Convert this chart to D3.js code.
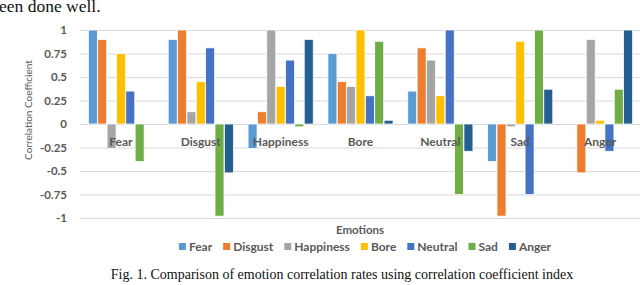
<!DOCTYPE html>
<html lang="en">
<head>
	<meta charset="UTF-8">
	<title>Emotion correlation</title>
	<script type="text/javascript" src="https://cdn.jsdelivr.net/npm/d3@7/dist/d3.min.js"></script>
	<style>
		body { margin: 0; background: #fff; }
		.lbl { font-family: Lato, "Open Sans", sans-serif; font-weight: bold; fill: #595959; }
		.serif { font-family: "Liberation Serif", "DejaVu Serif", serif; fill: #111; }
	</style>
</head>
<body>
<script type="text/javascript">
	// categories and one array per series
	var emotions = ['Fear', 'Disgust', 'Happiness', 'Bore', 'Neutral', 'Sad', 'Anger'];
	var fear = [1, 0.9, -0.26, 0.75, 0.35, -0.4, 0];
	var disgust = [0.9, 1, 0.13, 0.45, 0.81, -0.98, -0.52];
	var happiness = [-0.26, 0.13, 1, 0.4, 0.68, -0.03, 0.9];
	var bore = [0.75, 0.45, 0.4, 1, 0.3, 0.88, 0.04];
	var neutral = [0.35, 0.81, 0.68, 0.3, 1, -0.75, -0.29];
	var sad = [-0.4, -0.98, -0.03, 0.88, -0.75, 1, 0.37];
	var anger = [0, -0.52, 0.9, 0.04, -0.29, 0.37, 1];
	var yTicks = [1, 0.75, 0.5, 0.25, 0, -0.25, -0.5, -0.75, -1];
	var colors = ['#5B9BD5', '#ED7D31', '#A5A5A5', '#FFC000', '#4472C4', '#70AD47', '#255E91'];

	window.onload = function () {
		var series = [fear, disgust, happiness, bore, neutral, sad, anger];
		var left = 81, right = 640, top = 30, bottom = 218;

		var svg = d3.select('body')
			.append('svg')
			.attr('width', 640)
			.attr('height', 285);

		// text cut from the page above the figure
		svg.append('text')
			.attr('class', 'serif')
			.attr('x', -1)
			.attr('y', 12)
			.style('font-size', '17.5px')
			.text('een done well.');

		var x0 = d3.scaleBand()
			.domain(emotions)
			.range([left, right])
			.paddingInner(0.175)
			.paddingOuter(0.0875);

		var x1 = d3.scaleBand()
			.domain(d3.range(series.length))
			.range([0, x0.bandwidth()])
			.padding(0.04);

		var y = d3.scaleLinear()
			.domain([-1, 1])
			.range([bottom, top]);

		var yAxis = svg.append('g')
			.attr('class', 'lbl')
			.attr('transform', 'translate(' + (left - 1) + ',0)')
			.call(d3.axisLeft(y)
				.tickValues(yTicks)
				.tickSize(-(right - left + 1))
				.tickPadding(13)
				.tickFormat(function (d) { return String(d); }));
		yAxis.select('.domain').remove();
		yAxis.selectAll('line').attr('stroke', '#D9D9D9');
		yAxis.selectAll('text')
			.attr('fill', '#595959')
			.style('font-size', '11.5px')
			.style('font-family', 'Lato, sans-serif')
			.style('font-weight', 'bold');

		var groups = svg.selectAll('.grp')
			.data(series)
			.enter().append('g')
			.attr('class', 'grp')
			.attr('fill', function (d, i) { return colors[i]; });

		groups.selectAll('rect')
			.data(function (d, i) {
				return d.map(function (v, j) { return {s: i, c: emotions[j], v: v}; });
			})
			.enter().append('rect')
			.attr('x', function (d) { return x0(d.c) + x1(d.s); })
			.attr('width', x1.bandwidth())
			.attr('y', function (d) { return y(Math.max(0, d.v)); })
			.attr('height', function (d) { return Math.abs(y(d.v) - y(0)); })
			.attr('stroke', '#fff')
			.attr('stroke-width', 0.75);

		// category labels sit just below the zero line
		svg.selectAll('.cat')
			.data(emotions)
			.enter().append('text')
			.attr('class', 'lbl')
			.attr('x', function (d) { return x0(d) + x0.bandwidth() / 2; })
			.attr('y', y(0) + 22)
			.attr('text-anchor', 'middle')
			.style('font-size', '12px')
			.text(function (d) { return d; });

		svg.append('text')
			.attr('class', 'lbl')
			.attr('transform', 'translate(32,110) rotate(-90)')
			.attr('text-anchor', 'middle')
			.style('font-size', '10px')
			.style('font-weight', 'normal')
			.text('Correlation Coefficient');

		svg.append('text')
			.attr('class', 'lbl')
			.attr('x', 360)
			.attr('y', 234)
			.attr('text-anchor', 'middle')
			.style('font-size', '11.5px')
			.text('Emotions');

		// legend, centred under the plot
		var legend = svg.append('g');
		var lx = 0;
		emotions.forEach(function (name, i) {
			var item = legend.append('g').attr('transform', 'translate(' + lx + ',0)');
			item.append('rect')
				.attr('x', 0)
				.attr('y', -3)
				.attr('width', 7)
				.attr('height', 7)
				.attr('fill', colors[i]);
			var t = item.append('text')
				.attr('class', 'lbl')
				.attr('x', 10)
				.attr('y', 4.5)
				.style('font-size', '12px')
				.text(name);
			lx += 10 + t.node().getComputedTextLength() + 11;
		});
		lx -= 11;
		legend.attr('transform', 'translate(' + (365 - lx / 2) + ',246)');

		svg.append('text')
			.attr('class', 'serif')
			.attr('x', 342)
			.attr('y', 279)
			.attr('text-anchor', 'middle')
			.style('font-size', '14px')
			.text('Fig. 1. Comparison of emotion correlation rates using correlation coefficient index');
	};
</script>
</body>
</html>
